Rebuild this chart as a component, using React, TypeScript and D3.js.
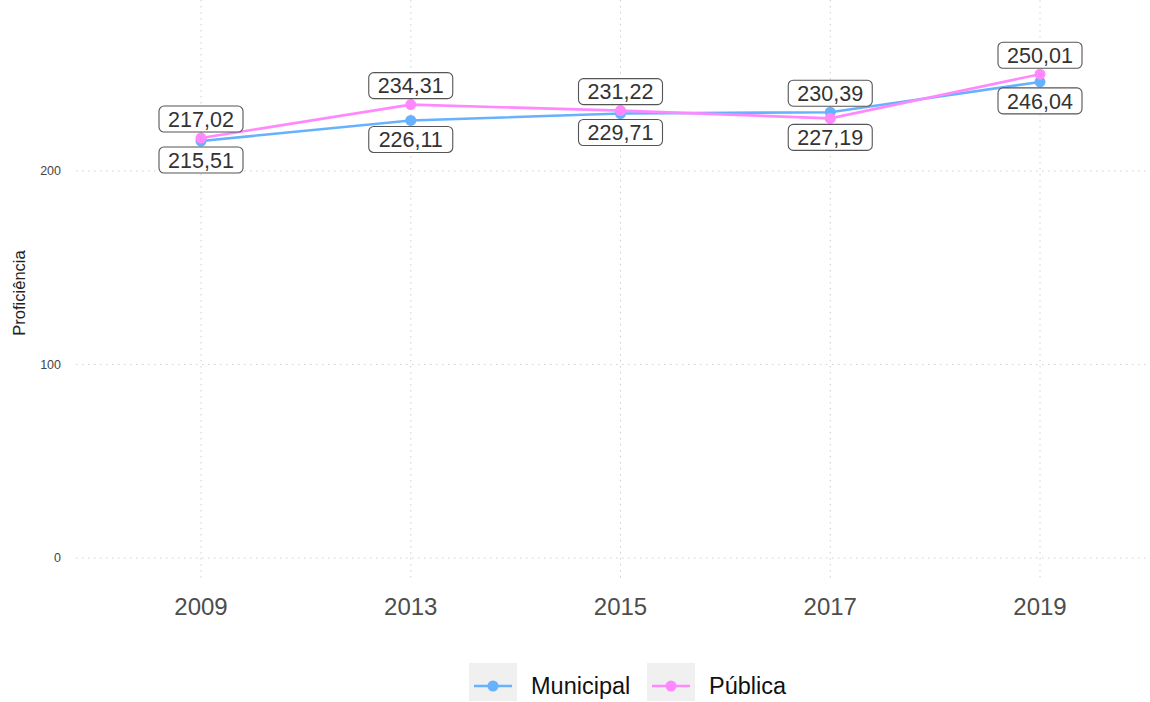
import React from 'react';
import * as d3 from 'd3';

const years = ['2009', '2013', '2015', '2017', '2019'];
const municipal = [215.51, 226.11, 229.71, 230.39, 246.04];
const publica = [217.02, 234.31, 231.22, 227.19, 250.01];
const yTicks = [0, 100, 200];

const seriesList = [
  { name: 'Municipal', values: municipal, color: '#66b2ff' },
  { name: 'Pública', values: publica, color: '#ff88ff' },
];

const W = 1150;
const H = 702;
const panel = { left: 76, right: 1147, top: 0, bottom: 580 };

const fmt = (v: number) => v.toFixed(2).replace('.', ',');

export default function App() {
  const x = d3.scalePoint<string>().domain(years).range([201, 1040]);
  const y = d3.scaleLinear().domain([0, 200]).range([558, 171]);
  const line = d3
    .line<number>()
    .x((_, i) => x(years[i])!)
    .y((d) => y(d));

  // label placement: higher value above the point, lower below
  const labels: { v: number; cx: number; cy: number }[] = [];
  years.forEach((yr, i) => {
    const a = municipal[i];
    const b = publica[i];
    const hi = Math.max(a, b);
    const lo = Math.min(a, b);
    labels.push({ v: hi, cx: x(yr)!, cy: y(hi) - 19 });
    labels.push({ v: lo, cx: x(yr)!, cy: y(lo) + 19 });
  });

  const font = '"Liberation Sans", Helvetica, Arial, sans-serif';

  return (
    <svg width={W} height={H} style={{ position: 'absolute', left: 0, top: 0 }} fontFamily={font}>
      <rect width={W} height={H} fill="#fff" />
      {years.map((yr) => (
        <line key={yr} x1={x(yr)} x2={x(yr)} y1={panel.top} y2={panel.bottom}
          stroke="#d0d0d0" strokeWidth={1} strokeDasharray="1.5,4.5" />
      ))}
      {yTicks.map((t) => (
        <g key={t}>
          <line x1={panel.left} x2={panel.right} y1={y(t)} y2={y(t)}
            stroke="#d0d0d0" strokeWidth={1} strokeDasharray="1.5,4.5" />
          <text x={61} y={y(t)} dy="0.35em" textAnchor="end" fontSize={12.5} fill="#444">{t}</text>
        </g>
      ))}
      {years.map((yr) => (
        <text key={yr} x={x(yr)} y={607} dy="0.35em" textAnchor="middle" fontSize={24} fill="#4d4d4d">{yr}</text>
      ))}
      <text transform={`translate(25,${293}) rotate(-90)`} textAnchor="middle" fontSize={16.5} fill="#222">Proficiência</text>

      {seriesList.map((s) => (
        <g key={s.name}>
          <path d={line(s.values)!} fill="none" stroke={s.color} strokeWidth={2.6} />
          {s.values.map((v, i) => (
            <circle key={i} cx={x(years[i])} cy={y(v)} r={5.5} fill={s.color} />
          ))}
        </g>
      ))}

      {labels.map((l, i) => (
        <g key={i}>
          <rect x={l.cx - 42} y={l.cy - 13} width={84} height={26} rx={5}
            fill="#fff" stroke="#555" strokeWidth={1.1} />
          <text x={l.cx} y={l.cy} dy="0.36em" textAnchor="middle" fontSize={21.5} fill="#333">{fmt(l.v)}</text>
        </g>
      ))}

      {/* legend */}
      {seriesList.map((s, i) => {
        const kx = i === 0 ? 469 : 647;
        return (
          <g key={s.name}>
            <rect x={kx} y={663} width={48} height={38} fill="#f0f0f0" />
            <line x1={kx + 5} x2={kx + 43} y1={686} y2={686} stroke={s.color} strokeWidth={2.6} />
            <circle cx={kx + 24} cy={686} r={5.5} fill={s.color} />
            <text x={kx + 62} y={686} dy="0.35em" fontSize={23.5} fill="#111">{s.name}</text>
          </g>
        );
      })}
    </svg>
  );
}
